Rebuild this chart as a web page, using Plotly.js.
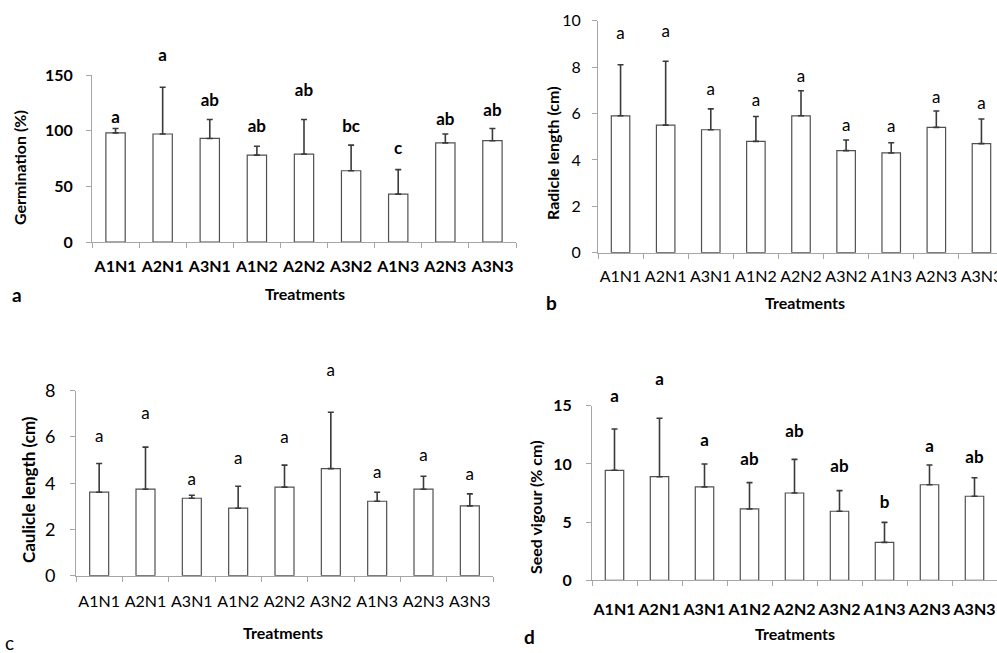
<!DOCTYPE html>
<html><head><meta charset="utf-8">
<script src="https://cdn.plot.ly/plotly-3.0.1.min.js"></script>
<style>html,body{margin:0;padding:0;overflow:hidden;background:#fff}#chart{width:1010px;height:653px}</style>
</head><body><div id="chart"></div>
<script>
const treatments = ["A1N1","A2N1","A3N1","A1N2","A2N2","A3N2","A1N3","A2N3","A3N3"];

const germination = [98, 97, 93, 78, 79, 64, 43, 89, 91];
const germinationErr = [4, 42, 17, 8, 31, 23, 22, 8, 11];
const germinationLetters = ["a","a","ab","ab","ab","bc","c","ab","ab"];
const germinationLetterY = [111, 166, 126, 103, 135, 103, 83, 109, 117];

const radicle = [5.9, 5.5, 5.3, 4.8, 5.9, 4.4, 4.3, 5.4, 4.7];
const radicleErr = [2.2, 2.75, 0.9, 1.07, 1.08, 0.46, 0.44, 0.71, 1.06];
const radicleLetters = ["a","a","a","a","a","a","a","a","a"];
const radicleLetterY = [9.38, 9.48, 6.97, 6.51, 7.56, 5.43, 5.40, 6.65, 6.37];

const caulicle = [3.61, 3.74, 3.35, 2.92, 3.83, 4.63, 3.22, 3.74, 3.02];
const caulicleErr = [1.24, 1.82, 0.13, 0.95, 0.95, 2.44, 0.39, 0.56, 0.52];
const caulicleLetters = ["a","a","a","a","a","a","a","a","a"];
const caulicleLetterY = [5.95, 6.96, 4.11, 5.01, 5.92, 8.83, 4.43, 5.13, 4.32];

const vigour = [9.45, 8.9, 8.02, 6.13, 7.5, 5.93, 3.26, 8.21, 7.22];
const vigourErr = [3.55, 5.02, 1.97, 2.26, 2.89, 1.77, 1.72, 1.7, 1.59];
const vigourLetters = ["a","a","a","ab","ab","ab","b","a","ab"];
const vigourLetterY = [15.72, 17.15, 11.91, 10.25, 12.71, 9.67, 6.55, 11.43, 10.48];

const W = 1010, H = 653;
const FONT = "Lato, 'Open Sans', sans-serif";
const px = (a,b) => [a/W, b/W];
const py = (bottom, top) => [1 - bottom/H, 1 - top/H];

function barTrace(vals, errs, xa, ya) {
  return {
    type: 'bar', x: treatments, y: vals, xaxis: xa, yaxis: ya, width: 0.41,
    marker: {color: '#ffffff', line: {color: '#505050', width: 1.2}},
    error_y: {type: 'data', symmetric: false, array: errs, arrayminus: errs.map(() => 0),
              color: '#3a3a3a', thickness: 1.6, width: 3},
    showlegend: false, hoverinfo: 'x+y'
  };
}
function letterTrace(labels, ys, xa, ya, bold, size) {
  return {
    type: 'scatter', mode: 'text', x: treatments, y: ys, text: labels,
    xaxis: xa, yaxis: ya, cliponaxis: false, showlegend: false, hoverinfo: 'skip',
    textposition: 'middle center',
    textfont: {family: FONT, size: size, color: '#000', weight: bold ? 'bold' : 'normal'}
  };
}

const data = [
  barTrace(germination, germinationErr, 'x', 'y'),
  barTrace(radicle, radicleErr, 'x2', 'y2'),
  barTrace(caulicle, caulicleErr, 'x3', 'y3'),
  barTrace(vigour, vigourErr, 'x4', 'y4'),
  letterTrace(germinationLetters, germinationLetterY, 'x', 'y5', true, 17),
  letterTrace(radicleLetters, radicleLetterY, 'x2', 'y6', false, 17),
  letterTrace(caulicleLetters, caulicleLetterY, 'x3', 'y7', false, 17),
  letterTrace(vigourLetters, vigourLetterY, 'x4', 'y8', true, 17)
];

function xAxis(domain, anchor, bold, size, standoff) {
  return {
    domain: domain, anchor: anchor, type: 'category', tickangle: 0,
    showline: true, linecolor: '#a6a6a6', linewidth: 1,
    ticks: 'outside', tickson: 'boundaries', ticklen: 5, tickcolor: '#a6a6a6',
    showgrid: false, zeroline: false, ticklabelstandoff: standoff,
    tickfont: {family: FONT, size: size, color: '#000', weight: bold ? 'bold' : 'normal'},
    range: [-0.5, 8.5], fixedrange: true
  };
}
function yAxis(domain, anchor, range, dtick, bold, size, standoff) {
  return {
    domain: domain, anchor: anchor, range: range, dtick: dtick,
    showline: true, linecolor: '#a6a6a6', linewidth: 1,
    ticks: 'outside', ticklen: 5, tickcolor: '#a6a6a6',
    showgrid: false, zeroline: false, ticklabelstandoff: standoff,
    tickfont: {family: FONT, size: size, color: '#000', weight: bold ? 'bold' : 'normal'},
    fixedrange: true
  };
}
// invisible taller axis with the same pixel scale, so that letters above the range still show
function letterAxis(anchor, bottom, top, topExt, max) {
  return {
    domain: py(bottom, topExt), anchor: anchor, visible: false, fixedrange: true,
    range: [0, max * (bottom - topExt) / (bottom - top)]
  };
}

const annotations = [];
function paperText(text, xPix, yPix, size, bold, angle) {
  annotations.push({
    x: xPix / W, y: 1 - yPix / H, xref: 'paper', yref: 'paper', text: text, showarrow: false,
    xanchor: 'center', yanchor: 'middle', textangle: angle || 0,
    font: {family: FONT, size: size, color: '#000', weight: bold ? 'bold' : 'normal'}
  });
}
// axis titles
paperText('Germination (%)', 20, 168, 16, true, -90);
paperText('Treatments', 305, 293, 16, true);
paperText('Radicle length (cm)', 553, 153, 16, true, -90);
paperText('Treatments', 805, 302, 16, true);
paperText('Caulicle length (cm)', 28, 490, 17, true, -90);
paperText('Treatments', 283, 632, 16, true);
paperText('Seed vigour (% cm)', 535, 507, 16, true, -90);
paperText('Treatments', 795, 633, 16, true);
// panel letters
paperText('a', 17, 295, 19, true);
paperText('b', 551, 302, 19, true);
paperText('c', 9, 642, 19, false);
paperText('d', 529, 636, 19, true);

const layout = {
  width: W, height: H, margin: {l: 0, r: 0, t: 0, b: 0},
  paper_bgcolor: '#fff', plot_bgcolor: 'rgba(0,0,0,0)',
  showlegend: false, bargap: 0.59,
  xaxis: xAxis(px(92, 516), 'y', true, 16, 10),
  yaxis: yAxis(py(242, 75), 'x', [0, 150], 50, true, 16, 10),
  xaxis2: xAxis(px(598, 1004), 'y2', false, 16, 9),
  yaxis2: yAxis(py(252.7, 20.7), 'x2', [0, 10], 2, false, 16, 8),
  xaxis3: xAxis(px(76, 493), 'y3', false, 16, 11),
  yaxis3: yAxis(py(575.7, 390.7), 'x3', [0, 8], 2, false, 18, 11),
  xaxis4: xAxis(px(592, 997), 'y4', true, 16, 14),
  yaxis4: yAxis(py(580.3, 405.7), 'x4', [0, 15], 5, true, 16, 11),
  yaxis5: letterAxis('x', 242, 75, 30, 150),
  yaxis6: letterAxis('x2', 252.7, 20.7, 5, 10),
  yaxis7: letterAxis('x3', 575.7, 390.7, 360, 8),
  yaxis8: letterAxis('x4', 580.3, 405.7, 365, 15),
  annotations: annotations
};

Plotly.newPlot('chart', data, layout, {displayModeBar: false, staticPlot: true});
</script>
</body></html>
